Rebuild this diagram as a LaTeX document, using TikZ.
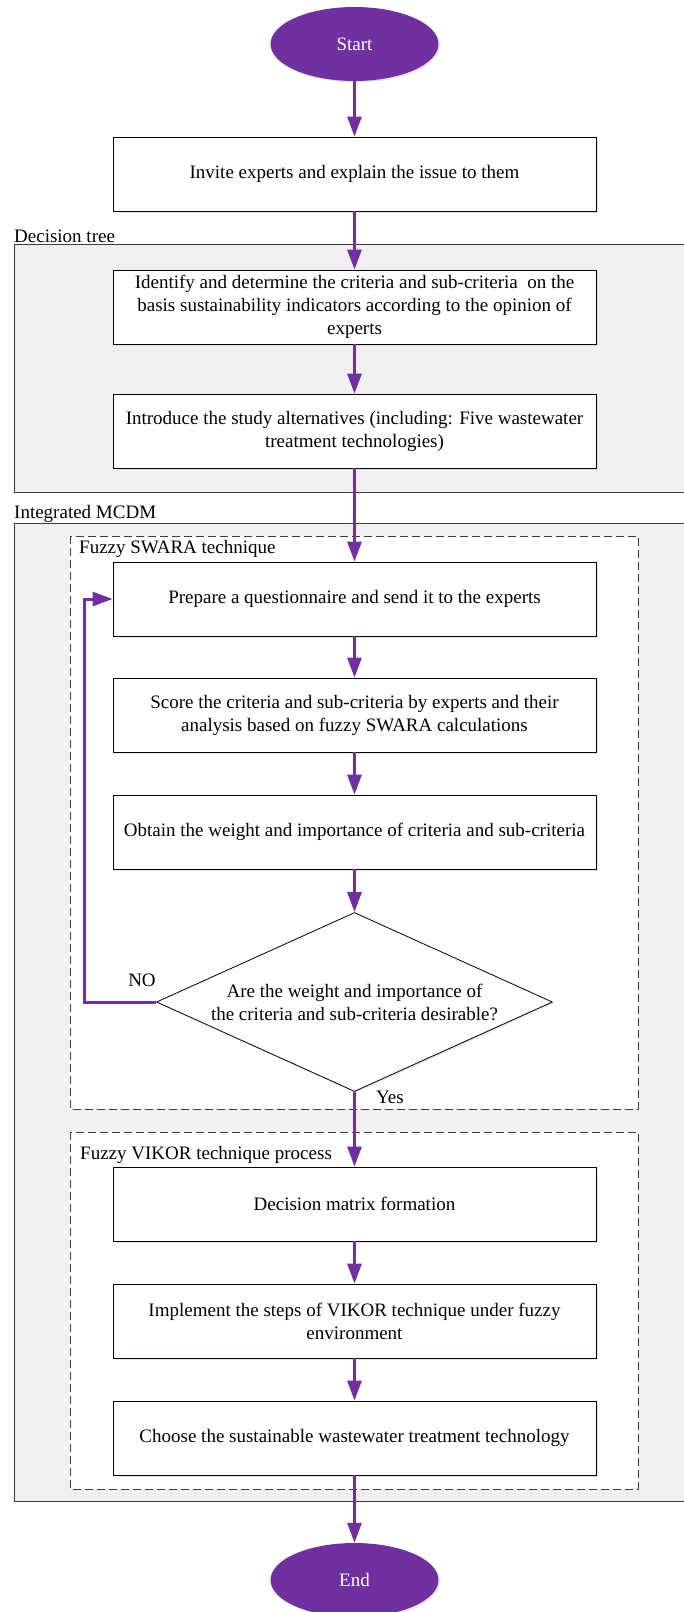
\documentclass[tikz,border=0pt]{standalone}
\usepackage{fontspec}
\setmainfont{Liberation Serif}
\usetikzlibrary{shapes.geometric, arrows.meta, positioning, shadows}

\definecolor{flowpurple}{HTML}{7030A0}
\definecolor{groupgray}{HTML}{F0F0F0}
\definecolor{edgegray}{HTML}{3C3C3C}

\begin{document}
\begin{tikzpicture}[x=1pt, y=-1pt,
    every node/.style={font=\fontsize{19}{23}\selectfont},
    softshadow/.style={drop shadow={shadow xshift=1.5pt, shadow yshift=-1.5pt, fill=blue!40!gray!40, opacity=0.35}},
    terminal/.style={ellipse, fill=flowpurple, text=white, minimum width=168pt, minimum height=74pt, softshadow},
    stepbox/.style={draw, fill=white, line width=0.8pt, minimum width=483pt, minimum height=74pt, align=center, inner sep=2pt, softshadow},
    question/.style={diamond, draw, fill=white, line width=0.8pt, aspect=2.2, minimum width=396pt, minimum height=179pt, inner sep=0pt, align=center, softshadow},
    group/.style={draw=edgegray, fill=groupgray, line width=1pt},
    phase/.style={draw=edgegray, fill=white, line width=1pt, dash pattern=on 8pt off 4pt},
    flow/.style={draw=flowpurple, line width=3pt, -{Triangle[length=20pt,width=14pt]}}
]
    \clip (0,0) rectangle (684,1612);

    % group frames
    \draw[group] (14,244) rectangle (700,492);
    \node[anchor=base west, inner sep=0pt] (treelabel) at (14,242) {Decision tree};
    \draw[group] (14,523) rectangle (700,1501);
    \node[anchor=base west, inner sep=0pt] (mcdmlabel) at (14,518) {Integrated MCDM};
    \draw[phase] (70,536) rectangle (638,1109);
    \node[anchor=base west, inner sep=0pt] (swaralabel) at (79,553) {Fuzzy SWARA technique};
    \draw[phase] (70,1132) rectangle (638,1489);
    \node[anchor=base west, inner sep=0pt] (vikorlabel) at (80,1159) {Fuzzy VIKOR technique process};

    % steps
    \node[terminal] (start) at (354.5,44) {Start};
    \node[stepbox] (invite) at (354.5,174) {Invite experts and explain the issue to them};
    \node[stepbox] (criteria) at (354.5,307) {Identify and determine the criteria and sub-criteria\ \ on the\\basis sustainability indicators according to the opinion of\\experts};
    \node[stepbox] (alternatives) at (354.5,431) {Introduce the study alternatives (including: Five wastewater\\treatment technologies)};
    \node[stepbox] (questionnaire) at (354.5,599) {Prepare a questionnaire and send it to the experts};
    \node[stepbox] (score) at (354.5,715) {Score the criteria and sub-criteria by experts and their\\analysis based on fuzzy SWARA calculations};
    \node[stepbox] (weight) at (354.5,832) {Obtain the weight and importance of criteria and sub-criteria};
    \node[question] (desirable) at (354.5,1002) {Are the weight and importance of\\the criteria and sub-criteria desirable?};
    \node[stepbox] (matrix) at (354.5,1204) {Decision matrix formation};
    \node[stepbox] (implement) at (354.5,1321) {Implement the steps of VIKOR technique under fuzzy\\environment};
    \node[stepbox] (choose) at (354.5,1438) {Choose the sustainable wastewater treatment technology};
    \node[terminal] (end) at (354.5,1580) {End};

    % connectors
    \draw[flow] (start) -- (invite);
    \draw[flow] (invite) -- (criteria);
    \draw[flow] (criteria) -- (alternatives);
    \draw[flow] (alternatives) -- (questionnaire);
    \draw[flow] (questionnaire) -- (score);
    \draw[flow] (score) -- (weight);
    \draw[flow] (weight) -- (desirable);
    \draw[flow] (desirable) -- (matrix);
    \draw[flow] (matrix) -- (implement);
    \draw[flow] (implement) -- (choose);
    \draw[flow] (choose) -- (end);

    \coordinate (noturn) at (84,1002);
    \draw[flow] (desirable.west) -- (noturn) |- (questionnaire.west);
    \node (nolabel) at (142,980) {NO};
    \node (yeslabel) at (390,1097) {Yes};
\end{tikzpicture}
\end{document}
